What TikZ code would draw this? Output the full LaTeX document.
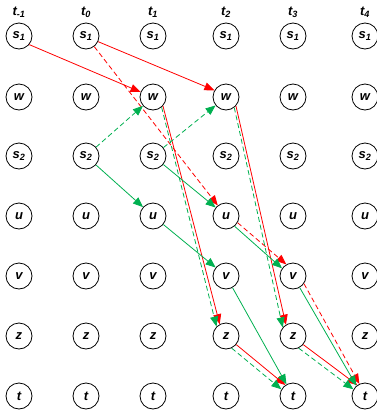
\documentclass[tikz,border=0pt]{standalone}
\usepackage{fontspec}
\setmainfont{Liberation Sans}
\usetikzlibrary{arrows.meta}
\definecolor{flowred}{RGB}{255,0,0}
\definecolor{flowgreen}{RGB}{0,176,80}

\begin{document}
\begin{tikzpicture}[x=1pt, y=-1pt,
  every node/.style={font=\fontsize{13}{15}\selectfont\bfseries\itshape},
  vertex/.style={draw, circle, minimum size=26pt, inner sep=0pt, line width=0.8pt},
  flow/.style={line width=0.8pt, -{Triangle[length=10pt,width=8pt]}},
  redflow/.style={flow, flowred},
  greenflow/.style={flow, flowgreen},
  dashedflow/.style={dash pattern=on 5pt off 3pt}]
  \useasboundingbox (0,0) rectangle (377,418);
  % time steps and their copies of the graph
  \foreach \c/\x/\lab in {0/19/{-1}, 1/86/0, 2/153/1, 3/226/2, 4/293/3, 5/365/4}
    {
      \node (h\c) at (\x,12) {t\textsubscript{\lab}};
      \foreach \y/\nm/\txt in {36/s1/{s\textsubscript{1}}, 97/w/w, 156/s2/{s\textsubscript{2}},
                               216/u/u, 276/v/v, 336/z/z, 396/t/t}
        \node[vertex] (\nm-\c) at (\x,\y) {\txt};
    }
  % red, solid
  \draw[redflow] (s1-0.-40) -- (w-2.158);
  \draw[redflow] (s1-1.-25) -- (w-3.150);
  \draw[redflow] (w-2.-42) -- (z-3.118);
  \draw[redflow] (w-3.-42) -- (z-4.122);
  \draw[redflow] (z-3.-40) -- (t-4.125);
  \draw[redflow] (z-4.-40) -- (t-5.125);
  % red, dashed
  \draw[redflow, dashedflow] (s1-1) -- (u-3);
  \draw[redflow, dashedflow] (u-3.-30) -- (v-4.120);
  \draw[redflow, dashedflow] (v-4.-35) -- (t-5.115);
  % green, dashed
  \draw[greenflow, dashedflow] (s2-1) -- (w-2);
  \draw[greenflow, dashedflow] (s2-2) -- (w-3);
  \draw[greenflow, dashedflow] (w-2.-50) -- (z-3.135);
  \draw[greenflow, dashedflow] (w-3.-52) -- (z-4.140);
  \draw[greenflow, dashedflow] (z-3.-65) -- (t-4.150);
  \draw[greenflow, dashedflow] (z-4.-65) -- (t-5.150);
  % green, solid
  \draw[greenflow] (s2-1) -- (u-2);
  \draw[greenflow] (s2-2) -- (u-3);
  \draw[greenflow] (u-2) -- (v-3);
  \draw[greenflow] (u-3.-50) -- (v-4.145);
  \draw[greenflow] (v-3) -- (t-4);
  \draw[greenflow] (v-4.-60) -- (t-5.130);
\end{tikzpicture}
\end{document}
